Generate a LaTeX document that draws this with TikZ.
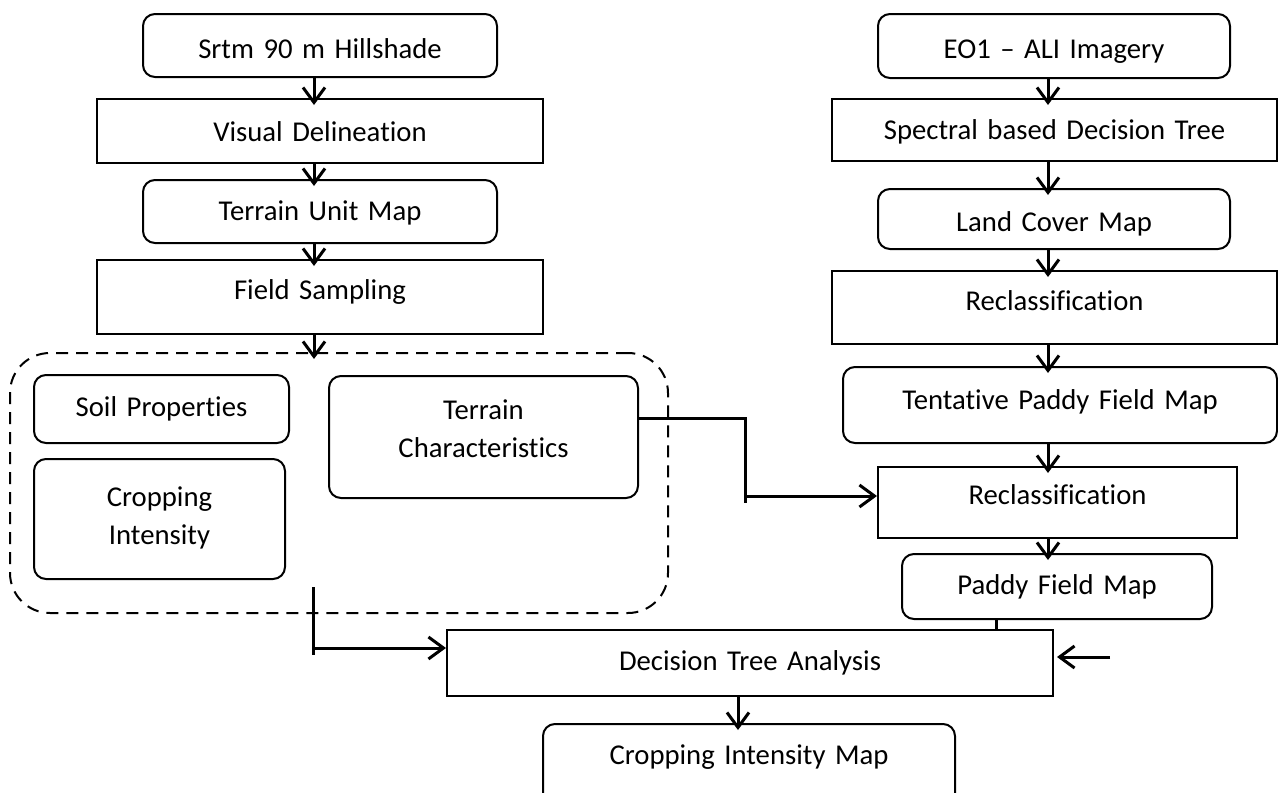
\documentclass[tikz,border=0pt]{standalone}
\usepackage{fontspec}
\setmainfont{Carlito}[Ligatures=CommonOff]
\usepackage{tikz}
\usetikzlibrary{arrows.meta}

\tikzset{
  box/.style={draw, line width=2pt, inner sep=0pt, align=center, anchor=north},
  rbox/.style={box, rounded corners=12pt},
  conn/.style={line width=3pt},
  arr/.style={conn, -{Straight Barb[length=15pt,width=22pt]}, shorten >=-7pt}
}

\begin{document}
\begin{tikzpicture}[x=1pt,y=-1pt,font=\fontsize{28.7pt}{38pt}\selectfont]
      \clip (0,0) rectangle (1278,793);
      % Columns of the vertical arrows
      \coordinate (lc) at (314,0);
      \coordinate (rc) at (1048,0);
      \coordinate (mc) at (738,0);
      % Left column
      \node[rbox, text width=354pt, text height=44pt, text depth=19pt] (srtm) at (320,13) {Srtm 90 m Hillshade};
      \node[box, text width=446pt, text height=42pt, text depth=22pt] (visdel) at (320,98) {Visual Delineation};
      \node[rbox, text width=354pt, text height=40pt, text depth=23pt] (tumap) at (320,179) {Terrain Unit Map};
      \node[box, text width=446pt, text height=39pt, text depth=35pt] (fieldsamp) at (320,259) {Field Sampling};
      % Field samples
      \node[draw, dashed, dash pattern=on 12pt off 8pt, line width=2pt, rounded corners=40pt,
            minimum width=658pt, minimum height=260pt, anchor=north] (samples) at (339,352) {};
      \node[rbox, text width=255pt, text height=41pt, text depth=27pt] (soil) at (161.5,374) {Soil Properties};
      \node[rbox, text width=251pt, text height=47pt, text depth=73pt] (cropint) at (159.5,458) {Cropping\\Intensity};
      \node[rbox, text width=309pt, text height=43pt, text depth=79pt] (terrchar) at (483.5,375) {Terrain\\Characteristics};
      % Right column
      \node[rbox, text width=352pt, text height=44pt, text depth=20pt] (eo1) at (1054,13) {EO1 -- ALI Imagery};
      \node[box, text width=445pt, text height=40pt, text depth=22pt] (spectral) at (1054.5,98) {Spectral based Decision Tree};
      \node[rbox, text width=352pt, text height=42pt, text depth=18pt] (lcmap) at (1054,188) {Land Cover Map};
      \node[box, text width=445pt, text height=39pt, text depth=34pt] (reclassA) at (1054.5,270) {Reclassification};
      \node[rbox, text width=434pt, text height=42pt, text depth=34pt] (tentative) at (1060,366) {Tentative Paddy Field Map};
      \node[box, text width=359pt, text height=37pt, text depth=34pt] (reclassB) at (1057.5,466) {Reclassification};
      \node[rbox, text width=310pt, text height=40pt, text depth=25pt] (paddy) at (1057,553) {Paddy Field Map};
      % Bottom
      \node[box, text width=606pt, text height=40pt, text depth=26pt] (dtree) at (750,629) {Decision Tree Analysis};
      \node[rbox, text width=412pt, text height=40pt, text depth=67pt] (cropmap) at (749,723) {Cropping Intensity Map};
      % Arrows down the columns
      \draw[arr] (srtm.south -| lc) -- (visdel.north -| lc);
      \draw[arr] (visdel.south -| lc) -- (tumap.north -| lc);
      \draw[arr] (tumap.south -| lc) -- (fieldsamp.north -| lc);
      \draw[arr] (fieldsamp.south -| lc) -- (samples.north -| lc);
      \draw[arr] (eo1.south -| rc) -- (spectral.north -| rc);
      \draw[arr] (spectral.south -| rc) -- (lcmap.north -| rc);
      \draw[arr] (lcmap.south -| rc) -- (reclassA.north -| rc);
      \draw[arr] (reclassA.south -| rc) -- (tentative.north -| rc);
      \draw[arr] (tentative.south -| rc) -- (reclassB.north -| rc);
      \draw[arr] (reclassB.south -| rc) -- (paddy.north -| rc);
      \draw[arr] (dtree.south -| mc) -- (cropmap.north -| mc);
      % Terrain characteristics to reclassification
      \coordinate (k1) at (745,418);
      \coordinate (k2) at (745,503);
      \coordinate (k3) at (745,496);
      \draw[conn] (terrchar.east |- k1) -- (k1) -- (k2);
      \draw[arr, shorten >=0pt] (k3) -- (k3 -| reclassB.west);
      % Field samples to decision tree
      \coordinate (m1) at (313,587);
      \coordinate (m2) at (313,655);
      \coordinate (m3) at (313,648);
      \draw[conn] (m1) -- (m2);
      \draw[arr, shorten >=0pt] (m3) -- (m3 -| dtree.west);
      % Paddy field map to decision tree
      \coordinate (pt) at (996,0);
      \draw[conn] (paddy.south -| pt) -- (dtree.north -| pt);
      \coordinate (rin) at (1110,657);
      \draw[arr, shorten >=3pt] (rin) -- (rin -| dtree.east);
    \end{tikzpicture}
\end{document}
